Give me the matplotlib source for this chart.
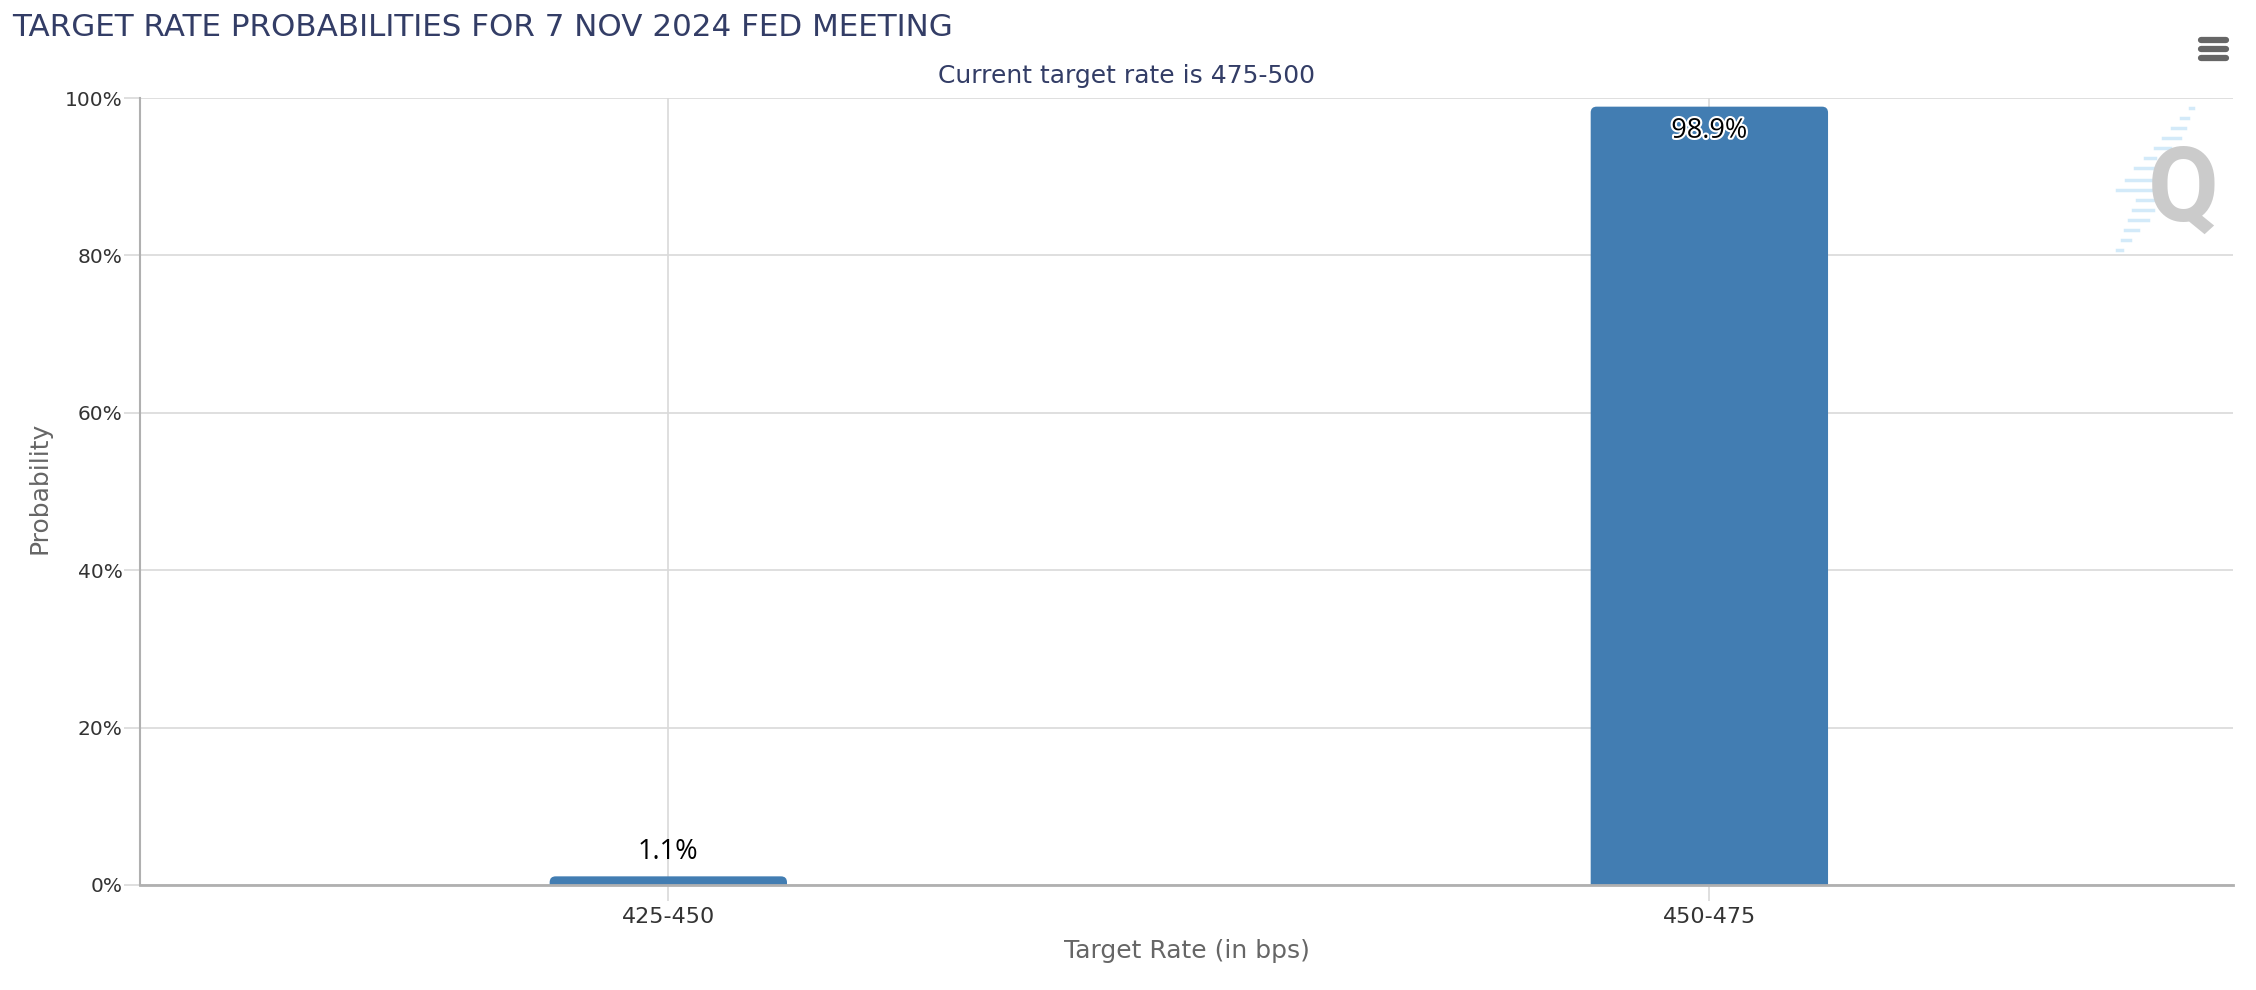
import matplotlib
matplotlib.use("Agg")
import matplotlib.pyplot as plt
from matplotlib.patches import FancyBboxPatch
from matplotlib.lines import Line2D
import matplotlib.patheffects as pe
from matplotlib.ticker import FuncFormatter

# data
categories = ["425-450", "450-475"]
probabilities = [1.1, 98.9]
yticks = [0, 20, 40, 60, 80, 100]

title = "TARGET RATE PROBABILITIES FOR 7 NOV 2024 FED MEETING"
subtitle = "Current target rate is 475-500"

plt.rcParams['font.family'] = ['DejaVu Sans']

W, H = 2256, 990
fig = plt.figure(figsize=(W / 100, H / 100), dpi=100)
fig.patch.set_facecolor("white")
ax = fig.add_axes([140 / W, 1 - 885 / H, (2233 - 140) / W, (885 - 98) / H])

navy = "#333d66"
bar_color = "#427db2"
grid_color = "#d9d9d9"
axis_color = "#b0b0b0"
label_color = "#666666"
tick_color = "#333333"

x = list(range(len(categories)))
bars = ax.bar(x, probabilities, width=0.228, color=bar_color, zorder=3)

xlo, xhi = -0.5075, len(categories) - 0.497
# swap plain bars for ones with rounded top corners
px_x = (xhi - xlo) / (2233 - 140)      # data units per pixel in x
px_y = 100.0 / (885 - 98)              # data units per pixel in y
for rect in bars:
    rect.set_visible(False)
    rnd = 6 * px_x
    patch = FancyBboxPatch((rect.get_x(), -2), rect.get_width(), rect.get_height() + 2,
                           boxstyle=f"round,pad=0,rounding_size={rnd}",
                           mutation_aspect=px_y / px_x,
                           facecolor=bar_color, edgecolor="none", zorder=3)
    ax.add_patch(patch)

ax.set_xlim(xlo, xhi)
ax.set_ylim(0, 100)
ax.set_yticks(yticks)
ax.yaxis.set_major_formatter(FuncFormatter(lambda v, p: f"{v:.0f}%"))
ax.set_xticks(x)
ax.set_xticklabels(categories)

ax.grid(True, axis="both", color=grid_color, linewidth=1.2, zorder=0)
for side in ["top", "right"]:
    ax.spines[side].set_visible(False)
ax.spines["left"].set_color(axis_color)
ax.spines["left"].set_linewidth(1.5)
ax.spines["bottom"].set_color(axis_color)
ax.spines["bottom"].set_linewidth(2)
ax.spines["bottom"].set_zorder(4)

ax.tick_params(axis="y", length=11.5, width=1.2, color=grid_color, labelsize=14.5,
               labelcolor=tick_color, pad=1)
ax.tick_params(axis="x", length=11.5, width=1.2, color=grid_color, labelsize=16,
               labelcolor=tick_color, pad=4)

# value labels
for xi, v in zip(x, probabilities):
    if v > 10:
        ax.annotate(f"{v}%", (xi, v), xytext=(0, -24), textcoords="offset pixels",
                    ha="center", va="center", fontsize=19.5, color="black", zorder=5,
                    family="Open Sans",
                    path_effects=[pe.withStroke(linewidth=3, foreground="white")])
    else:
        ax.annotate(f"{v}%", (xi, v), xytext=(0, 24), textcoords="offset pixels",
                    ha="center", va="center", fontsize=19.5, color="black", zorder=5,
                    family="Open Sans")

fig.text((140 + 2233) / 2 / W, 1 - 951 / H, "Target Rate (in bps)", ha="center",
         va="center", fontsize=18, color=label_color)
fig.text(39 / W, 1 - 488 / H, "Probability", ha="center", va="center",
         rotation=90, fontsize=18, color=label_color)

fig.text(12 / W, 1 - 27 / H, title, ha="left", va="center", fontsize=22.3, color=navy)
fig.text(1127 / W, 1 - 76 / H, subtitle, ha="center", va="center", fontsize=18, color=navy)

# menu icon
for yy in [40, 49, 58]:
    fig.add_artist(Line2D([2201 / W, 2226 / W], [1 - yy / H, 1 - yy / H],
                          color="#666666", linewidth=4.5, solid_capstyle="round"))

# watermark logo
dashes = [(108, 2190, 2193), (118, 2181, 2188), (128, 2172, 2185), (138, 2163, 2180),
          (148, 2155, 2170), (158, 2145, 2155), (168, 2135, 2153), (180, 2126, 2153),
          (190, 2117, 2153), (200, 2137, 2153), (210, 2133, 2153), (220, 2129, 2148),
          (230, 2125, 2138), (240, 2122, 2130), (250, 2117, 2122)]
for yy, x0, x1 in dashes:
    fig.add_artist(Line2D([x0 / W, x1 / W], [1 - yy / H, 1 - yy / H],
                          color="#d3eaf9", linewidth=2.5, zorder=1))
fig.text(2183 / W, 1 - 192 / H, "Q", ha="center", va="center", fontsize=74,
         fontweight="bold", color="#cbcbcb", family="Roboto", zorder=2)

fig.savefig("out.png", dpi=100, facecolor="white")
